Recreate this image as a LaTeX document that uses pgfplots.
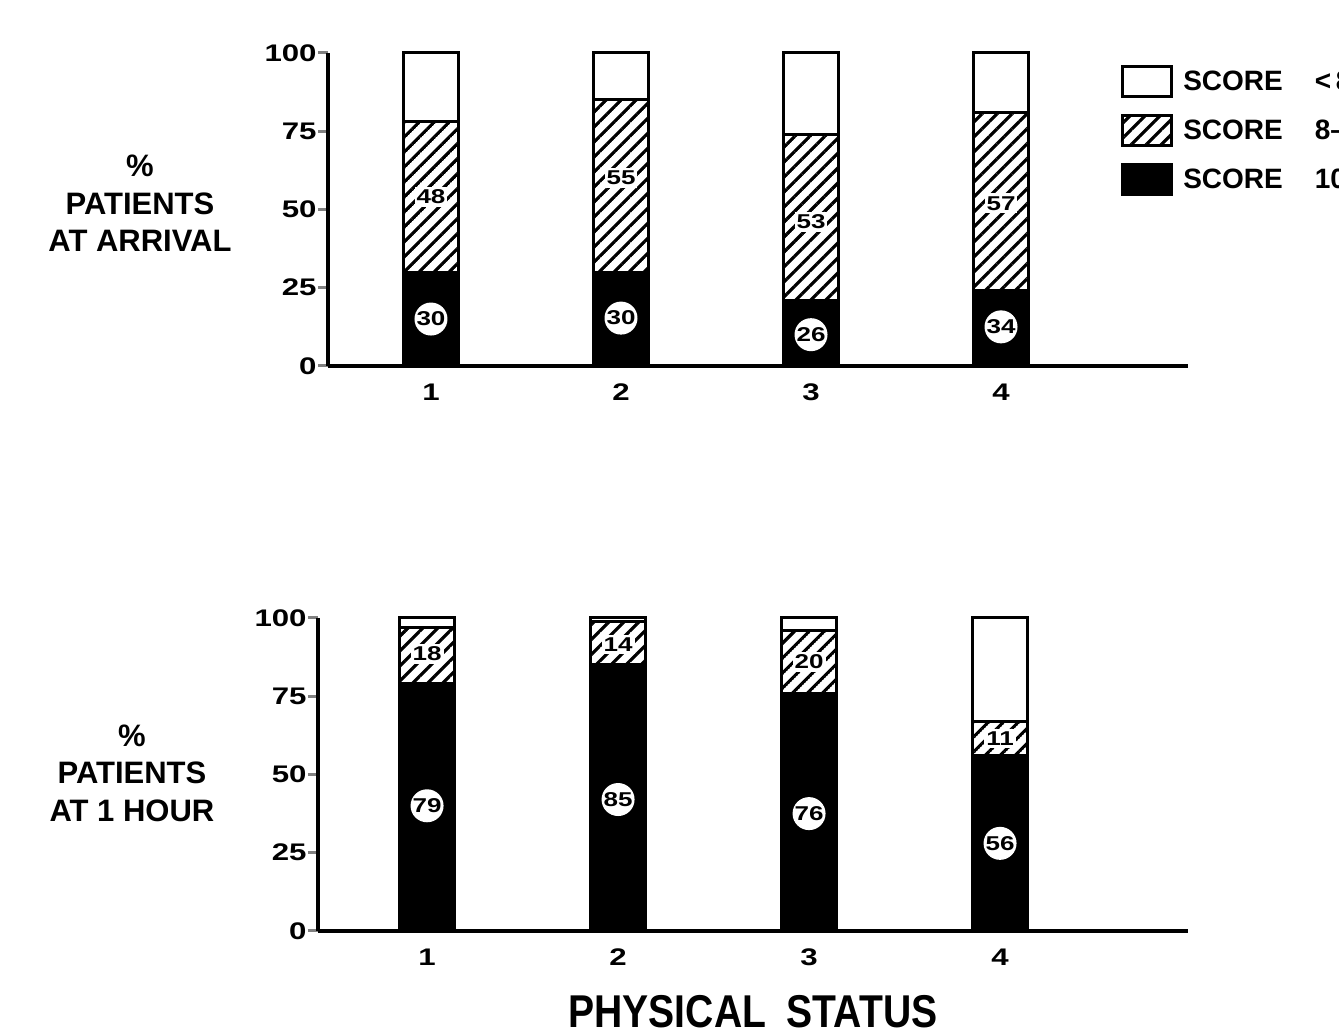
\documentclass[border=0pt]{standalone}
\usepackage{pgfplots}
\pgfplotsset{compat=1.18}
\usetikzlibrary{patterns.meta}
\usepackage{fontspec}
\setmainfont{Liberation Sans}
\newfontfamily\tickfont{Liberation Sans}[FakeStretch=1.3]
\newfontfamily\titlefont{Liberation Sans}[FakeStretch=0.85]

\tikzdeclarepattern{
  name=hatch,
  parameters={
    \pgfkeysvalueof{/pgf/pattern keys/size},
    \pgfkeysvalueof{/pgf/pattern keys/angle},
    \pgfkeysvalueof{/pgf/pattern keys/line width},
  },
  bounding box={
    (0,-0.5*\pgfkeysvalueof{/pgf/pattern keys/line width}) and
    (\pgfkeysvalueof{/pgf/pattern keys/size},
     0.5*\pgfkeysvalueof{/pgf/pattern keys/line width})},
  tile size={(\pgfkeysvalueof{/pgf/pattern keys/size},
              \pgfkeysvalueof{/pgf/pattern keys/size})},
  tile transformation={rotate=\pgfkeysvalueof{/pgf/pattern keys/angle}},
  defaults={
    size/.initial=5pt,
    angle/.initial=45,
    line width/.initial=.4pt,
  },
  code={
    \draw [line width=\pgfkeysvalueof{/pgf/pattern keys/line width}]
      (0,0) -- (\pgfkeysvalueof{/pgf/pattern keys/size},0);
  },
}

\tikzset{
  circ/.style={circle, fill=white, inner sep=0pt, minimum size=16.5pt, font=\tickfont\bfseries\fontsize{10}{10}\selectfont},
  hl/.style={fill=white, inner xsep=1pt, inner ysep=1.5pt, font=\tickfont\bfseries\fontsize{10}{10}\selectfont},
}

\pgfplotsset{
  myaxis/.style={
    scale only axis,
    height=156.5pt,
    ybar stacked,
    bar width=27.5pt,
    ymin=0, ymax=100,
    ytick={0,25,50,75,100},
    xtick={1,2,3,4},
    xticklabels={1,2,3,4},
    axis lines=left,
    axis line style={-, line width=1.75pt},
    tick align=outside,
    major tick length=5pt,
    ytick style={line width=1.5pt},
    xtick style={draw=none},
    /pgf/number format/assume math mode=true,
    yticklabel style={font=\tickfont\bfseries\fontsize{12}{12}\selectfont, inner xsep=0.5pt},
    xticklabel style={font=\tickfont\bfseries\fontsize{12}{12}\selectfont, yshift=-0.5pt},
    clip=false,
    enlargelimits=false,
    ylabel style={rotate=-90, align=center, font=\bfseries\fontsize{15.5}{18.75}\selectfont, anchor=center},
  },
  sw/.style={draw=black, line width=1.5pt, fill=white},
  sh/.style={draw=black, line width=1.5pt, pattern={hatch[size=5.3pt, line width=1.6pt, angle=45]}},
  sb/.style={draw=black, line width=1.5pt, fill=black},
  lg/.style={legend image code/.code={\draw[##1] (0pt,-7.5pt) rectangle (24.5pt,7.5pt);}},
}

\begin{document}
\begin{tikzpicture}
\useasboundingbox (0,0) rectangle (669.5pt,518pt);

% ---------- top panel: at arrival ----------
\begin{axis}[myaxis,
  at={(164pt,335pt)}, anchor=south west,
  width=430pt,
  xmin=0.458, xmax=4.984,
  ylabel={\%\\PATIENTS\\AT ARRIVAL},
  ylabel style={at={(axis description cs:0,0.52)}, xshift=-94pt},
  reverse legend,
  legend style={draw=none, fill=none, inner sep=0pt,
    at={(axis description cs:0.922,0.962)}, anchor=north west,
    font=\bfseries\fontsize{14}{14}\selectfont,
    row sep=8pt, cells={anchor=west},
    /tikz/every odd column/.append style={column sep=3pt}},
]
\addplot[sb, lg] coordinates {(1,30) (2,30) (3,21) (4,24)};
\addplot[sh, lg] coordinates {(1,48) (2,55) (3,53) (4,57)};
\addplot[sw, lg] coordinates {(1,22) (2,15) (3,26) (4,19)};
\legend{SCORE\hspace{16pt}10, SCORE\hspace{16pt}8--9, SCORE\hspace{16pt}<\,8}
\coordinate (a1) at (axis cs:1,15);
\coordinate (a2) at (axis cs:2,15.3);
\coordinate (a3) at (axis cs:3,10);
\coordinate (a4) at (axis cs:4,12.5);
\coordinate (b1) at (axis cs:1,54);
\coordinate (b2) at (axis cs:2,60);
\coordinate (b3) at (axis cs:3,46);
\coordinate (b4) at (axis cs:4,52);
\end{axis}

% ---------- bottom panel: at 1 hour ----------
\begin{axis}[myaxis,
  at={(159pt,52.5pt)}, anchor=south west,
  width=435pt,
  xmin=0.429, xmax=4.984,
  ylabel={\%\\PATIENTS\\AT 1 HOUR},
  ylabel style={at={(axis description cs:0,0.505)}, xshift=-93pt},
  xlabel={PHYSICAL\hspace{0.45em}STATUS},
  xlabel style={font=\titlefont\bfseries\fontsize{23}{23}\selectfont,
    at={(axis description cs:0.5,0)}, anchor=center, yshift=-40.5pt},
]
\addplot[sb] coordinates {(1,79) (2,85) (3,76) (4,56)};
\addplot[sh] coordinates {(1,18) (2,14) (3,20) (4,11)};
\addplot[sw] coordinates {(1,3) (2,1) (3,4) (4,33)};
\coordinate (c1) at (axis cs:1,40);
\coordinate (c2) at (axis cs:2,42);
\coordinate (c3) at (axis cs:3,37.5);
\coordinate (c4) at (axis cs:4,28);
\coordinate (d1) at (axis cs:1,88.5);
\coordinate (d2) at (axis cs:2,91.5);
\coordinate (d3) at (axis cs:3,86);
\coordinate (d4) at (axis cs:4,61.5);
\end{axis}

% value labels on the bars
\node[circ] at (a1) {30};
\node[circ] at (a2) {30};
\node[circ] at (a3) {26};
\node[circ] at (a4) {34};
\node[hl] at (b1) {48};
\node[hl] at (b2) {55};
\node[hl] at (b3) {53};
\node[hl] at (b4) {57};
\node[circ] at (c1) {79};
\node[circ] at (c2) {85};
\node[circ] at (c3) {76};
\node[circ] at (c4) {56};
\node[hl] at (d1) {18};
\node[hl] at (d2) {14};
\node[hl] at (d3) {20};
\node[hl] at (d4) {11};
\end{tikzpicture}
\end{document}
